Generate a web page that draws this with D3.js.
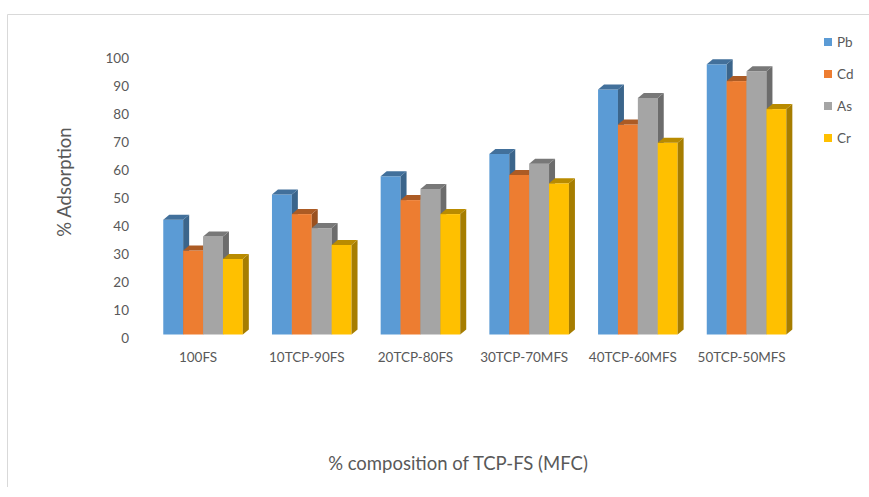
<!DOCTYPE html>
<html>
<head>
<meta charset="utf-8">
<script src="https://cdn.jsdelivr.net/npm/d3@7/dist/d3.min.js"></script>
<style>
  html, body { margin: 0; padding: 0; background: #ffffff; }
  svg { display: block; font-family: Lato, "Open Sans", sans-serif; }
</style>
</head>
<body>
<svg id="chart" width="869" height="497"></svg>
<script>
// Adsorption (%) of heavy metals by TCP-FS composite compositions
const categories = ["100FS", "10TCP-90FS", "20TCP-80FS", "30TCP-70MFS", "40TCP-60MFS", "50TCP-50MFS"];
const seriesNames = ["Pb", "Cd", "As", "Cr"];
const pbValues = [41, 50, 56.5, 64.5, 87.5, 96.5];
const cdValues = [30, 43, 48, 57, 75, 90.5];
const asValues = [35, 38, 52, 61, 84.5, 94];
const crValues = [27, 32, 43, 54, 68.5, 80.5];
const seriesColors = ["#5B9BD5", "#ED7D31", "#A5A5A5", "#FFC000"];
const yTicks = [0, 10, 20, 30, 40, 50, 60, 70, 80, 90, 100];

const seriesValues = [pbValues, cdValues, asValues, crValues];

const svg = d3.select("#chart");
const textColor = "#595959";

// chart-area border (top and left edges)
svg.append("line").attr("x1", 7.5).attr("y1", 14.5).attr("x2", 869).attr("y2", 14.5)
  .attr("stroke", "#d9d9d9");
svg.append("line").attr("x1", 7.5).attr("y1", 14.5).attr("x2", 7.5).attr("y2", 487)
  .attr("stroke", "#d9d9d9");

// scales
const y = d3.scaleLinear().domain([0, 100]).range([334.5, 54.5]);
const x0 = d3.scaleBand().domain(categories).range([148.7, 800.9])
  .paddingInner(0.268).paddingOuter(0.134);
const x1 = d3.scaleBand().domain(seriesNames).range([0, x0.bandwidth()]);
const color = d3.scaleOrdinal().domain(seriesNames).range(seriesColors);

// 3D depth of each column
const dx = 6, dy = -5;

// y axis labels
const yAxis = d3.axisLeft(y).tickValues(yTicks).tickSize(0).tickPadding(0);
const yg = svg.append("g").attr("transform", "translate(129,3.5)").call(yAxis);
yg.select(".domain").remove();
yg.selectAll("text").attr("fill", textColor).attr("font-size", 13.5)
  .attr("font-family", "Lato, 'Open Sans', sans-serif");

// columns
const rows = categories.map((c, i) => ({
  category: c,
  values: seriesNames.map((s, k) => ({ series: s, value: seriesValues[k][i] }))
}));

const groups = svg.append("g").selectAll("g").data(rows).join("g")
  .attr("transform", d => `translate(${x0(d.category)},0)`);

groups.each(function(row) {
  const g = d3.select(this);
  row.values.forEach(d => {
    const bx = x1(d.series), w = x1.bandwidth();
    const yt = y(d.value), yb = y(0);
    const base = d3.color(color(d.series));
    const col = g.append("g");
    col.append("rect").attr("x", bx).attr("y", yt).attr("width", w).attr("height", yb - yt)
      .attr("fill", base.formatHex());
    col.append("polygon")
      .attr("points", [[bx + w, yt], [bx + w + dx, yt + dy], [bx + w + dx, yb + dy], [bx + w, yb]].join(" "))
      .attr("fill", base.darker(1.2).formatHex());
    col.append("polygon")
      .attr("points", [[bx, yt], [bx + dx, yt + dy], [bx + w + dx, yt + dy], [bx + w, yt]].join(" "))
      .attr("fill", base.darker(0.9).formatHex());
  });
});

// category labels
svg.append("g").selectAll("text").data(categories).join("text")
  .attr("x", d => x0(d) + x0.bandwidth() / 2 - 5)
  .attr("y", 357)
  .attr("text-anchor", "middle")
  .attr("dominant-baseline", "central")
  .attr("fill", textColor)
  .attr("font-size", 13.5)
  .text(d => d);

// axis titles
svg.append("text")
  .attr("transform", "translate(64,182) rotate(-90)")
  .attr("text-anchor", "middle")
  .attr("dominant-baseline", "central")
  .attr("fill", textColor)
  .attr("font-size", 18.5)
  .text("% Adsorption");

svg.append("text")
  .attr("x", 458).attr("y", 463)
  .attr("text-anchor", "middle")
  .attr("dominant-baseline", "central")
  .attr("fill", textColor)
  .attr("font-size", 18.5)
  .text("% composition of TCP-FS (MFC)");

// legend
const legend = svg.append("g").selectAll("g").data(seriesNames).join("g")
  .attr("transform", (d, i) => `translate(824,${42 + i * 32})`);
legend.append("rect").attr("x", 0).attr("y", -4).attr("width", 8).attr("height", 8)
  .attr("fill", d => color(d));
legend.append("text").attr("x", 13).attr("y", 0)
  .attr("dominant-baseline", "central")
  .attr("fill", textColor)
  .attr("font-size", 13.5)
  .text(d => d);
</script>
</body>
</html>
